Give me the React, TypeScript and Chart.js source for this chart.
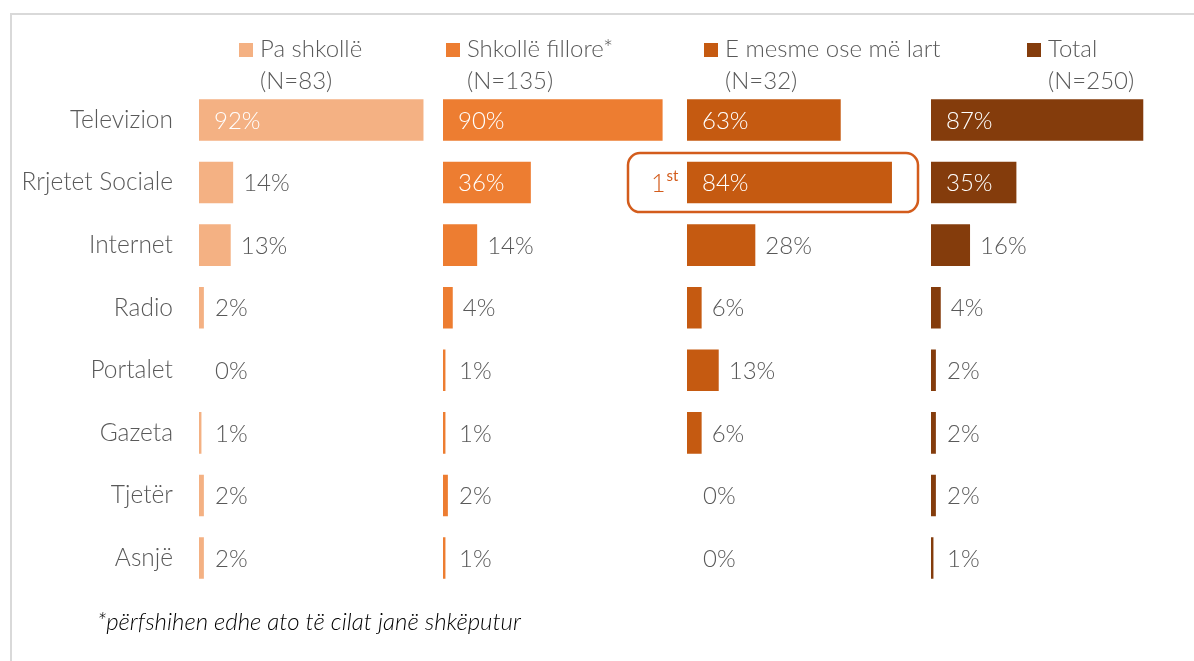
import React, { useEffect, useRef } from "react";
import { Chart, registerables } from "chart.js";

Chart.register(...registerables);

// ---- Data ----
const categories = ["Televizion", "Rrjetet Sociale", "Internet", "Radio", "Portalet", "Gazeta", "Tjetër", "Asnjë"];
const groupNames = ["Pa shkollë", "Shkollë fillore*", "E mesme ose më lart", "Total"];
const groupN = ["(N=83)", "(N=135)", "(N=32)", "(N=250)"];
const paShkolle = [92, 14, 13, 2, 0, 1, 2, 2];
const shkolleFillore = [90, 36, 14, 4, 1, 1, 2, 1];
const eMesme = [63, 84, 28, 6, 13, 6, 0, 0];
const total = [87, 35, 16, 4, 2, 2, 2, 1];
const seriesValues = [paShkolle, shkolleFillore, eMesme, total];
const colors = ["#F4B183", "#ED7D31", "#C55A11", "#843C0C"];
const footnote = "*përfshihen edhe ato të cilat janë shkëputur";
const highlightGroup = 2;
const highlightCategory = 1;
const highlightRank = "1";
const highlightSup = "st";

// ---- Styles ----
const FONT = "Lato, 'Open Sans', sans-serif";
const TEXT = "#595959";
const legendSquareX = [239, 446, 704, 1027];

const decorPlugin = {
  id: "decor",
  beforeDraw(chart: any) {
    const ctx = chart.ctx;
    ctx.save();
    ctx.strokeStyle = "#D9D9D9";
    ctx.lineWidth = 2;
    ctx.strokeRect(11, 14, 1400, 900);
    ctx.restore();
  },
  afterDatasetsDraw(chart: any) {
    const ctx = chart.ctx;
    ctx.save();
    // legend
    ctx.textBaseline = "alphabetic";
    ctx.textAlign = "left";
    ctx.font = `300 24px ${FONT}`;
    groupNames.forEach((name, i) => {
      const sx = legendSquareX[i];
      ctx.fillStyle = colors[i];
      ctx.fillRect(sx, 43, 14, 14);
      ctx.fillStyle = TEXT;
      ctx.fillText(name, sx + 21, 57);
      ctx.fillText(groupN[i], sx + 21, 89);
    });

    // value labels
    chart.data.datasets.forEach((ds: any, di: number) => {
      const meta = chart.getDatasetMeta(di);
      meta.data.forEach((bar: any, idx: number) => {
        const v = ds.data[idx];
        const txt = `${v}%`;
        const base = bar.base;
        const end = bar.x;
        ctx.font = `300 24px ${FONT}`;
        ctx.textBaseline = "middle";
        ctx.textAlign = "left";
        if (v >= 30) {
          ctx.fillStyle = "#FFFFFF";
          ctx.fillText(txt, base + 15, bar.y + 1);
        } else {
          ctx.fillStyle = TEXT;
          ctx.fillText(txt, Math.max(base + 16, end + 10), bar.y + 1);
        }
      });
    });

    // highlight box
    const hm = chart.getDatasetMeta(highlightGroup);
    const hb = hm.data[highlightCategory];
    const xs = chart.scales["x" + highlightGroup];
    const left = hb.base - 59;
    const right = xs.right - 13;
    const top = hb.y - 29.5;
    const bottom = hb.y + 29.5;
    ctx.strokeStyle = "#D35C1C";
    ctx.lineWidth = 2.5;
    ctx.beginPath();
    ctx.roundRect(left, top, right - left, bottom - top, 12);
    ctx.stroke();
    ctx.fillStyle = "#D35C1C";
    ctx.textAlign = "left";
    ctx.textBaseline = "alphabetic";
    ctx.font = `300 25px ${FONT}`;
    ctx.fillText(highlightRank, left + 23, hb.y + 9);
    const w = ctx.measureText(highlightRank).width;
    ctx.font = `400 15px ${FONT}`;
    ctx.fillText(highlightSup, left + 23 + w + 1, hb.y - 2);

    // footnote
    ctx.fillStyle = "#000000";
    ctx.font = `italic 300 24px ${FONT}`;
    ctx.textBaseline = "alphabetic";
    ctx.fillText(footnote, 97, 630);
    ctx.restore();
  },
};

export default function App() {
  const ref = useRef<HTMLCanvasElement | null>(null);
  useEffect(() => {
    if (!ref.current) return;
    const scales: any = {
      y: {
        type: "category",
        position: "left",
        grid: { display: false, drawTicks: false },
        border: { display: false },
        ticks: {
          color: TEXT,
          font: { family: FONT, size: 24.5, weight: "300" },
          padding: 26,
        },
        afterFit(scale: any) {
          scale.width = 199;
        },
      },
    };
    seriesValues.forEach((_, i) => {
      scales["x" + i] = {
        type: "linear",
        position: "bottom",
        stack: "panels",
        stackWeight: 1,
        min: 0,
        max: 100,
        display: false,
        offset: false,
      };
    });
    const chart = new Chart(ref.current, {
      type: "bar",
      data: {
        labels: categories,
        datasets: seriesValues.map((vals, i) => ({
          label: groupNames[i],
          data: vals,
          backgroundColor: colors[i],
          borderWidth: 0,
          xAxisID: "x" + i,
          yAxisID: "y",
          grouped: false,
          barPercentage: 0.665,
          categoryPercentage: 1,
        })),
      },
      options: {
        indexAxis: "y",
        responsive: false,
        animation: false,
        layout: { padding: { top: 88.7, bottom: 71.7, right: 19, left: 0 } },
        plugins: { legend: { display: false }, tooltip: { enabled: false } },
        scales,
      },
      plugins: [decorPlugin],
    } as any);
    return () => chart.destroy();
  }, []);
  return (
    <canvas
      ref={ref}
      width={1194}
      height={661}
      style={{ position: "absolute", left: 0, top: 0, width: 1194, height: 661 }}
    />
  );
}
